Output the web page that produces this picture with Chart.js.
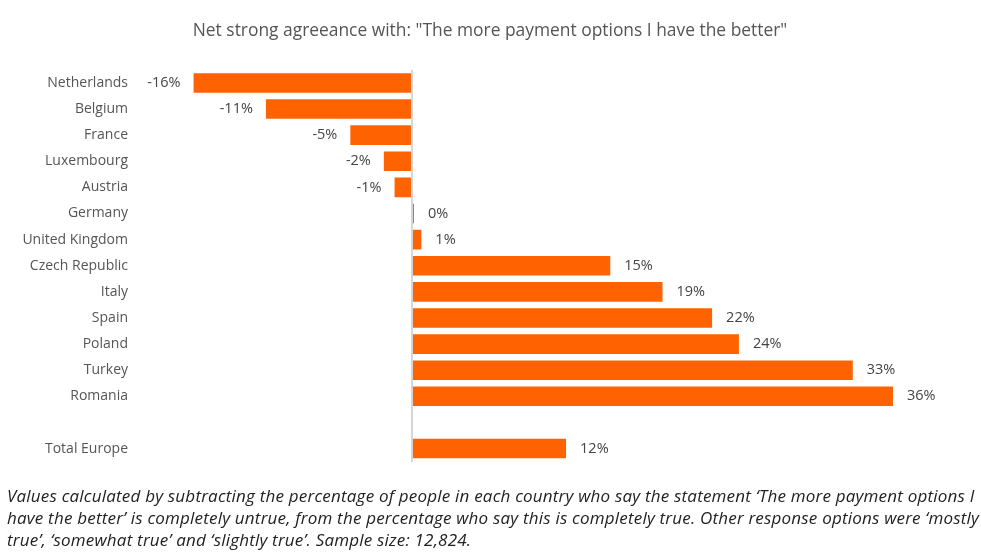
<!DOCTYPE html>
<html>
<head>
<meta charset="utf-8">
<script src="https://cdn.jsdelivr.net/npm/chart.js@4/dist/chart.umd.min.js"></script>
<style>
    body { margin: 0; background: #fff; width: 981px; height: 555px; overflow: hidden; }
    #wrap { position: absolute; left: 0; top: 0; width: 981px; height: 486px; }
    .note {
        position: absolute; left: 7px; top: 485px; width: 978px; white-space: nowrap;
        font-family: "Open Sans", sans-serif; font-style: italic;
        font-size: 17px; letter-spacing: 0.2px; line-height: 22px; color: #222;
    }
</style>
</head>
<body>
<div id="wrap"><canvas id="netchart"></canvas></div>
<div class="note">Values calculated by subtracting the percentage of people in each country who say the statement ‘The more payment options I<br>have the better’ is completely untrue, from the percentage who say this is completely true. Other response options were ‘mostly<br>true’, ‘somewhat true’ and ‘slightly true’. Sample size: 12,824.</div>
<script>
const countries = ['Netherlands', 'Belgium', 'France', 'Luxembourg', 'Austria', 'Germany',
    'United Kingdom', 'Czech Republic', 'Italy', 'Spain', 'Poland', 'Turkey', 'Romania', '', 'Total Europe'];
const netAgree = [-16.3, -10.9, -4.6, -2.1, -1.3, 0.15, 0.7, 14.8, 18.7, 22.4, 24.4, 32.9, 35.9, null, 11.5];
const valueLabels = ['-16%', '-11%', '-5%', '-2%', '-1%', '0%', '1%', '15%', '19%', '22%', '24%', '33%', '36%', '', '12%'];

const FONT = '"Open Sans", sans-serif';

// writes the % next to each bar end
const barLabels = {
    id: 'barLabels',
    afterDatasetsDraw(chart) {
        const ctx = chart.ctx;
        const meta = chart.getDatasetMeta(0);
        ctx.save();
        ctx.font = '14.5px ' + FONT;
        ctx.fillStyle = '#444';
        ctx.textBaseline = 'middle';
        meta.data.forEach((bar, i) => {
            if (netAgree[i] === null) return;
            if (netAgree[i] < 0) {
                ctx.textAlign = 'right';
                ctx.fillText(valueLabels[i], bar.x - 13, bar.y);
            } else {
                ctx.textAlign = 'left';
                ctx.fillText(valueLabels[i], bar.x + 14, bar.y);
            }
        });
        ctx.restore();
    }
};

new Chart(document.getElementById('netchart'), {
    type: 'bar',
    data: {
        labels: countries,
        datasets: [{
            data: netAgree,
            backgroundColor: '#FF6200',
            categoryPercentage: 0.75,
            barPercentage: 1
        }]
    },
    options: {
        indexAxis: 'y',
        responsive: true,
        maintainAspectRatio: false,
        animation: false,
        layout: { padding: { left: 16, right: 17, top: 0, bottom: 2 } },
        plugins: {
            legend: { display: false },
            tooltip: { enabled: false },
            title: {
                display: true,
                text: 'Net strong agreeance with: "The more payment options I have the better"',
                color: '#555',
                font: { family: FONT, size: 17.4, weight: 'normal' },
                padding: { top: 21, bottom: 28 }
            }
        },
        scales: {
            x: {
                min: -20,
                max: 41.2,
                ticks: { display: false },
                border: { display: false },
                grid: {
                    drawTicks: false,
                    lineWidth: 2,
                    color: c => (c.tick && c.tick.value === 0 ? '#d6d6d6' : 'rgba(0,0,0,0)')
                }
            },
            y: {
                afterFit(scale) { scale.width = 128; },
                border: { display: false },
                grid: { display: false, drawTicks: false },
                ticks: {
                    color: '#555',
                    padding: 16,
                    font: { family: FONT, size: 14 }
                }
            }
        }
    },
    plugins: [barLabels]
});
</script>
</body>
</html>
